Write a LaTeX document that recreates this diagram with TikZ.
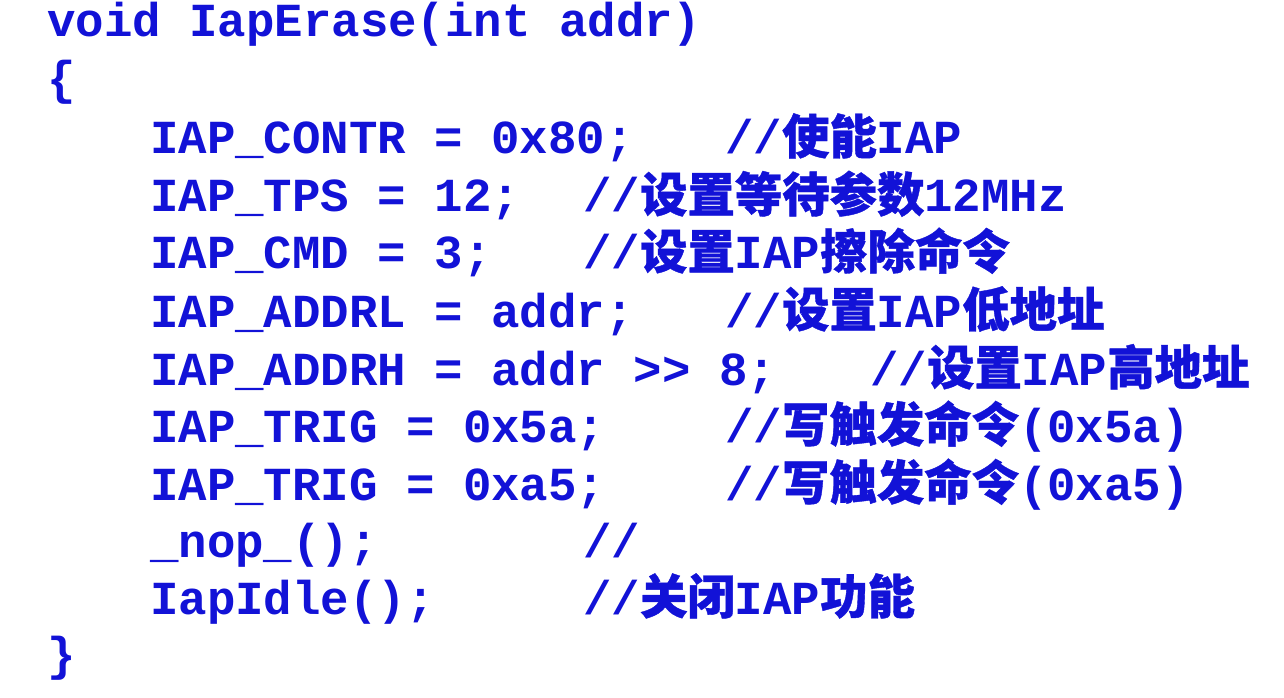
\documentclass[tikz,border=0pt]{standalone}
\usepackage{fontspec}
\setmonofont{Liberation Mono}
\newfontfamily\cjk[FakeBold=0.8]{Noto Sans CJK SC}
\newcommand{\zh}[1]{{\cjk #1}}
\definecolor{codeblue}{RGB}{18,18,215}
\begin{document}
\begin{tikzpicture}[x=1pt,y=1pt,
  code/.style={anchor=base west,inner sep=0pt,text=codeblue,font=\fontsize{47.4}{47}\selectfont\ttfamily\bfseries}]
\useasboundingbox (0,0) rectangle (1284,697);
\fill[white] (0,0) rectangle (1284,697);
\def\bl#1{700-#1}
\node[code] (l1) at (47,{\bl{40}}) {void IapErase(int addr)};
\node[code] (l2) at (47,{\bl{98}}) {\{};
\node[code] (s1) at (150,{\bl{157}}) {IAP\_CONTR = 0x80;};
\node[code] (c1) at (725,{\bl{157}}) {//\zh{使能}IAP};
\node[code] (s2) at (150,{\bl{215}}) {IAP\_TPS = 12;};
\node[code] (c2) at (583,{\bl{215}}) {//\zh{设置等待参数}12MHz};
\node[code] (s3) at (150,{\bl{272}}) {IAP\_CMD = 3;};
\node[code] (c3) at (583,{\bl{272}}) {//\zh{设置}IAP\zh{擦除命令}};
\node[code] (s4) at (150,{\bl{330}}) {IAP\_ADDRL = addr;};
\node[code] (c4) at (725,{\bl{330}}) {//\zh{设置}IAP\zh{低地址}};
\node[code] (s5) at (150,{\bl{388}}) {IAP\_ADDRH = addr >> 8;};
\node[code] (c5) at (870,{\bl{388}}) {//\zh{设置}IAP\zh{高地址}};
\node[code] (s6) at (150,{\bl{445}}) {IAP\_TRIG = 0x5a;};
\node[code] (c6) at (725,{\bl{445}}) {//\zh{写触发命令}(0x5a)};
\node[code] (s7) at (150,{\bl{503}}) {IAP\_TRIG = 0xa5;};
\node[code] (c7) at (725,{\bl{503}}) {//\zh{写触发命令}(0xa5)};
\node[code] (s8) at (150,{\bl{560}}) {\_nop\_();};
\node[code] (c8) at (583,{\bl{560}}) {//};
\node[code] (s9) at (150,{\bl{617}}) {IapIdle();};
\node[code] (c9) at (583,{\bl{617}}) {//\zh{关闭}IAP\zh{功能}};
\node[code] (l3) at (47,{\bl{673}}) {\}};
\end{tikzpicture}
\end{document}
